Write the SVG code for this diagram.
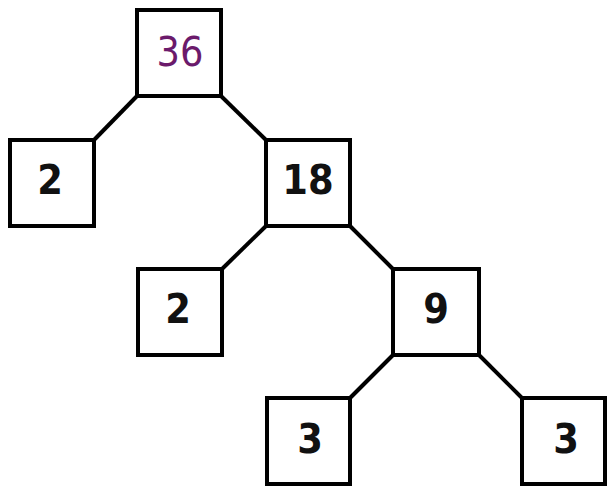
<svg xmlns="http://www.w3.org/2000/svg" width="607" height="486" viewBox="0 0 607 486">
<style>
.box{fill:#fff;stroke:#000;stroke-width:4}
.lbl{font-family:"DejaVu Sans Condensed","DejaVu Sans",sans-serif;font-size:41px;font-weight:bold;fill:#111;text-anchor:middle}
.root{font-weight:normal;fill:#6b1a6b}
.edge{stroke:#000;stroke-width:4;fill:none}
</style>
<rect width="607" height="486" fill="#fff"/>
<g id="connectors">
<line class="edge" x1="137" y1="96" x2="94" y2="140"/>
<line class="edge" x1="221" y1="96" x2="266" y2="140"/>
<line class="edge" x1="266" y1="226" x2="222" y2="269"/>
<line class="edge" x1="350" y1="226" x2="393" y2="269"/>
<line class="edge" x1="393" y1="355" x2="350" y2="398"/>
<line class="edge" x1="479" y1="355" x2="522" y2="398"/>
</g>
<g id="n36"><rect class="box" x="137" y="10" width="84" height="86"/><text class="lbl root" x="180" y="66">36</text></g>
<g id="n2a"><rect class="box" x="10" y="140" width="84" height="86"/><text class="lbl" x="50" y="194">2</text></g>
<g id="n18"><rect class="box" x="266" y="140" width="84" height="86"/><text class="lbl" x="308" y="194">18</text></g>
<g id="n2b"><rect class="box" x="138" y="269" width="84" height="86"/><text class="lbl" x="178" y="323">2</text></g>
<g id="n9"><rect class="box" x="393" y="269" width="86" height="86"/><text class="lbl" x="436" y="323">9</text></g>
<g id="n3a"><rect class="box" x="267" y="398" width="83" height="86"/><text class="lbl" x="310" y="453">3</text></g>
<g id="n3b"><rect class="box" x="522" y="398" width="83" height="86"/><text class="lbl" x="566" y="453">3</text></g>
</svg>
